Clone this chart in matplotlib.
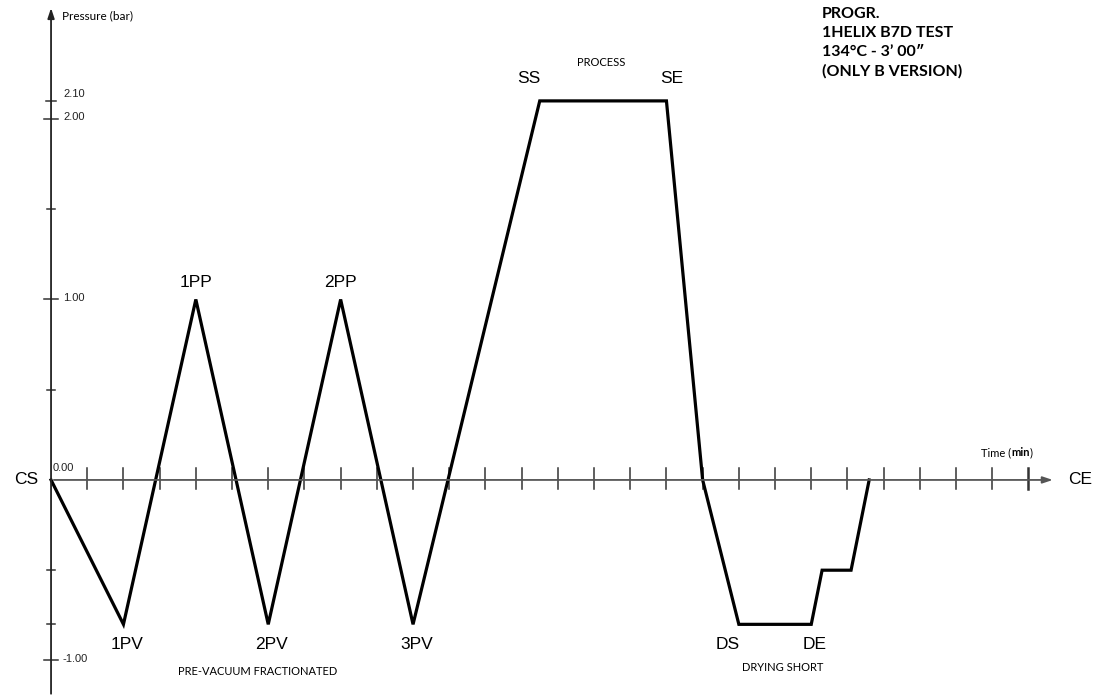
import matplotlib.pyplot as plt

# sterilisation cycle: time (min) vs pressure (bar)
time_min = [0, 2, 4, 6, 8, 10, 13.5, 17, 18, 19, 21, 21.3, 22.1, 22.6]
pressure = [0, -0.8, 1.0, -0.8, 1.0, -0.8, 2.1, 2.1, 0, -0.8, -0.8, -0.5, -0.5, 0]

# phase labels (index into the curve)
phase_names = ["1PV", "1PP", "2PV", "2PP", "3PV", "SS", "SE", "DS", "DE"]
phase_idx = [1, 2, 3, 4, 5, 6, 7, 9, 10]

y_labeled = [2.10, 2.00, 1.00, -1.00]
y_minor = [1.5, 0.5, -0.5, -0.8]
x_ticks = list(range(1, 28))

plt.rcParams["font.family"] = ["Liberation Sans", "DejaVu Sans"]

fig = plt.figure(figsize=(11.07, 6.96), dpi=100)
ax = fig.add_axes([0, 0, 1, 1])
ax.set_xlim(-1.41, 29.17)
ax.set_ylim(-1.197, 2.659)
ax.axis("off")

# axes with arrows
ax.annotate("", xy=(27.75, 0), xytext=(0, 0),
            arrowprops=dict(arrowstyle="-|>,head_length=0.6,head_width=0.2", color="#555555", lw=1.3))
ax.annotate("", xy=(0, 2.63), xytext=(0, -1.2),
            arrowprops=dict(arrowstyle="-|>,head_length=0.6,head_width=0.2", color="#222222", lw=1.3))

# x ticks
for t in x_ticks:
    lw = 1.8 if t == 27 else 1.1
    ax.plot([t, t], [0.065, -0.05], color="#333333", lw=lw)

# y ticks
for v in y_labeled:
    half = 0.2 if v in (2.0, 1.0, -1.0) else 0.13
    ax.plot([-half, half], [v, v], color="#333333", lw=1.1)
    ax.text(0.33, v + 0.01, f"{v:.2f}", fontsize=8, va="bottom" if v == 2.10 else "center",
            ha="left", color="#222222")
for v in y_minor:
    ax.plot([-0.12, 0.12], [v, v], color="#333333", lw=1.1)
ax.text(0.05, 0.04, "0.00", fontsize=8, ha="left", va="bottom", color="#222222")

# curve
ax.plot(time_min, pressure, color="black", lw=2.3, solid_joinstyle="miter")

# phase labels
for name, i in zip(phase_names, phase_idx):
    x, y = time_min[i], pressure[i]
    if name in ("SS", "SE"):
        dx = -0.3 if name == "SS" else 0.15
        ax.text(x + dx, y + 0.08, name, fontsize=12.5, ha="center", va="bottom")
    elif y > 0:
        ax.text(x, y + 0.05, name, fontsize=12.5, ha="center", va="bottom")
    else:
        dx = -0.3 if name == "DS" else 0.1
        ax.text(x + dx, y - 0.07, name, fontsize=12.5, ha="center", va="top")

ax.text(-0.7, 0, "CS", fontsize=12.5, ha="center", va="center")
ax.text(28.1, 0, "CE", fontsize=12.5, ha="left", va="center")

small = ["Lato", "DejaVu Sans"]
ax.text(0.3, 2.57, "Pressure (bar)", fontsize=8.5, ha="left", va="center", family=small)

# "Time (min)" with bold unit
t1 = ax.text(25.7, 0.13, "Time (", fontsize=8, ha="left", va="baseline", family=small)
t2 = ax.annotate("min", xy=(1, 0), xycoords=t1, fontsize=8, ha="left", va="bottom",
                 family=small, fontweight="bold")
ax.annotate(")", xy=(1, 0), xycoords=t2, fontsize=8, ha="left", va="bottom", family=small)

ax.text(15.2, 2.28, "PROCESS", fontsize=8, ha="center", va="bottom", family=small)
ax.text(5.7, -1.06, "PRE-VACUUM FRACTIONATED", fontsize=8, ha="center", va="center", family=small)
ax.text(20.2, -1.04, "DRYING SHORT", fontsize=8, ha="center", va="center", family=small)

ax.text(21.3, 2.62, "PROGR.\n1HELIX B7D TEST\n134°C - 3\u2019 00\u2033\n(ONLY B VERSION)",
        fontsize=11.5, fontweight="bold", ha="left", va="top", family=small, linespacing=1.45)

fig.savefig("out.png", dpi=100)
